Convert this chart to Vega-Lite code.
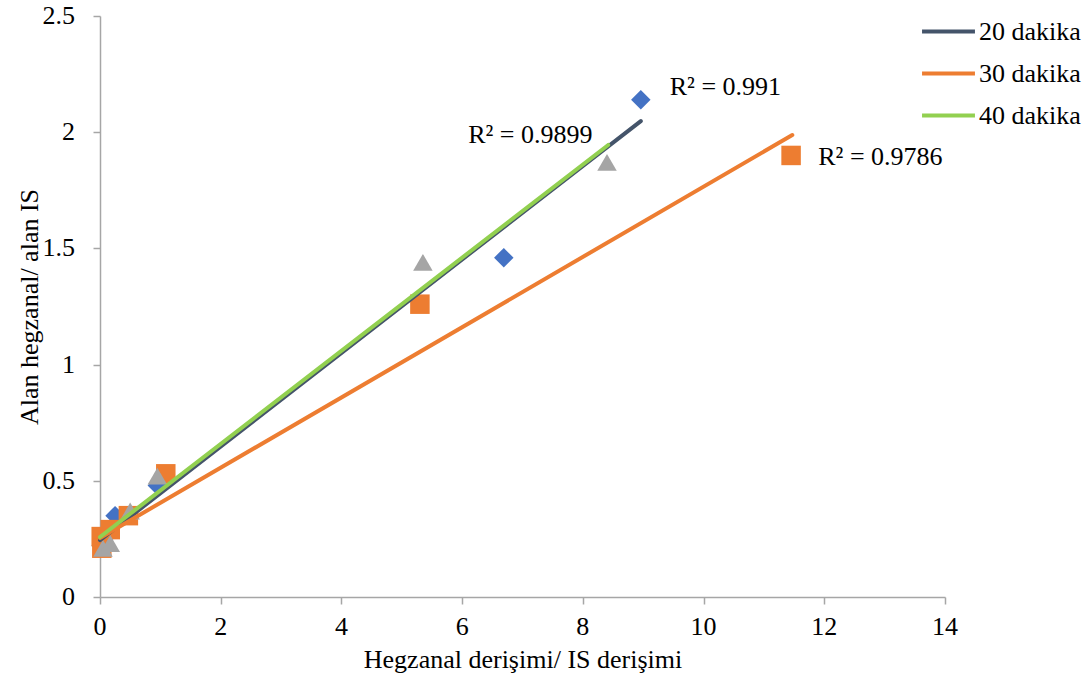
{
  "$schema": "https://vega.github.io/schema/vega-lite/v6.json",
  "width": 845,
  "height": 581,
  "autosize": {"type": "none"},
  "padding": {"left": 100, "top": 16, "right": 143, "bottom": 85},
  "background": "white",
  "config": {
    "view": {"stroke": null},
    "font": "Liberation Serif",
    "axis": {
      "grid": false,
      "labels": false,
      "domainColor": "#A6A6A6",
      "domainWidth": 1.5,
      "tickColor": "#A6A6A6",
      "tickWidth": 1.5,
      "tickSize": 7,
      "titleFont": "Liberation Serif",
      "titleFontSize": 26,
      "titleFontWeight": "normal",
      "titleColor": "#000000"
    },
    "legend": {
      "labelFont": "Times New Roman",
      "labelFontSize": 26,
      "labelColor": "#000000"
    }
  },
  "datasets": {
    "points": [
      {"series": "20 dakika", "x": 0.02, "y": 0.22},
      {"series": "20 dakika", "x": 0.1, "y": 0.26},
      {"series": "20 dakika", "x": 0.25, "y": 0.35},
      {"series": "20 dakika", "x": 0.95, "y": 0.48},
      {"series": "20 dakika", "x": 6.69, "y": 1.46},
      {"series": "20 dakika", "x": 8.96, "y": 2.14},
      {"series": "30 dakika", "x": 0.02, "y": 0.26},
      {"series": "30 dakika", "x": 0.03, "y": 0.21},
      {"series": "30 dakika", "x": 0.17, "y": 0.29},
      {"series": "30 dakika", "x": 0.47, "y": 0.35},
      {"series": "30 dakika", "x": 1.09, "y": 0.53},
      {"series": "30 dakika", "x": 5.3, "y": 1.26},
      {"series": "30 dakika", "x": 11.45, "y": 1.9},
      {"series": "40 dakika", "x": 0.05, "y": 0.21},
      {"series": "40 dakika", "x": 0.17, "y": 0.23},
      {"series": "40 dakika", "x": 0.5, "y": 0.37},
      {"series": "40 dakika", "x": 0.95, "y": 0.52},
      {"series": "40 dakika", "x": 5.35, "y": 1.44},
      {"series": "40 dakika", "x": 8.4, "y": 1.87}
    ],
    "trends": [
      {"series": "20 dakika", "x": 0.0, "y": 0.245},
      {"series": "20 dakika", "x": 8.96, "y": 2.048},
      {"series": "30 dakika", "x": 0.0, "y": 0.254},
      {"series": "30 dakika", "x": 11.47, "y": 1.988},
      {"series": "40 dakika", "x": 0.0, "y": 0.258},
      {"series": "40 dakika", "x": 8.42, "y": 1.945}
    ],
    "fits": [
      {"series": "20 dakika", "x": 9.44, "y": 2.195, "label": "R² = 0.991"},
      {"series": "40 dakika", "x": 6.1, "y": 1.988, "label": "R² = 0.9899"},
      {"series": "30 dakika", "x": 11.9, "y": 1.893, "label": "R² = 0.9786"}
    ],
    "xTicks": [{"v": 0}, {"v": 2}, {"v": 4}, {"v": 6}, {"v": 8}, {"v": 10}, {"v": 12}, {"v": 14}],
    "yTicks": [{"v": 0}, {"v": 0.5}, {"v": 1}, {"v": 1.5}, {"v": 2}, {"v": 2.5}]
  },
  "layer": [
    {
      "data": {"name": "points"},
      "mark": {"type": "point", "filled": true, "opacity": 1, "size": 380},
      "encoding": {
        "x": {
          "field": "x", "type": "quantitative",
          "scale": {"domain": [0, 14], "nice": false, "zero": true},
          "axis": {"values": [0, 2, 4, 6, 8, 10, 12, 14], "title": "Hegzanal derişimi/ IS derişimi", "titlePadding": 42}
        },
        "y": {
          "field": "y", "type": "quantitative",
          "scale": {"domain": [0, 2.5], "nice": false},
          "axis": {"values": [0, 0.5, 1, 1.5, 2, 2.5], "title": "Alan hegzanal/ alan IS", "titlePadding": 50}
        },
        "shape": {
          "field": "series", "type": "nominal",
          "scale": {"domain": ["20 dakika", "30 dakika", "40 dakika"], "range": ["diamond", "square", "triangle-up"]},
          "legend": null
        },
        "color": {
          "field": "series", "type": "nominal",
          "scale": {"domain": ["20 dakika", "30 dakika", "40 dakika"], "range": ["#4472C4", "#ED7D31", "#A5A5A5"]},
          "legend": null
        }
      }
    },
    {
      "data": {"name": "trends"},
      "mark": {"type": "line", "strokeWidth": 4, "strokeCap": "round"},
      "encoding": {
        "x": {"field": "x", "type": "quantitative"},
        "y": {"field": "y", "type": "quantitative"},
        "color": {
          "field": "series", "type": "nominal",
          "scale": {"domain": ["20 dakika", "30 dakika", "40 dakika"], "range": ["#44546A", "#ED7D31", "#92D050"]},
          "legend": {
            "title": null,
            "orient": "none",
            "legendX": 820,
            "legendY": -13,
            "symbolType": "stroke",
            "symbolSize": 2800,
            "symbolStrokeWidth": 4,
            "labelOffset": 2,
            "rowPadding": -3
          }
        }
      }
    },
    {
      "data": {"name": "fits"},
      "mark": {"type": "text", "align": "left", "baseline": "middle", "fontSize": 26, "font": "Liberation Serif", "color": "#000000"},
      "encoding": {
        "x": {"field": "x", "type": "quantitative"},
        "y": {"field": "y", "type": "quantitative"},
        "text": {"field": "label"}
      }
    },
    {
      "data": {"name": "xTicks"},
      "mark": {"type": "text", "align": "center", "baseline": "top", "dy": 17, "fontSize": 26, "font": "Liberation Serif", "color": "#000000"},
      "encoding": {
        "x": {"field": "v", "type": "quantitative"},
        "y": {"datum": 0, "type": "quantitative"},
        "text": {"field": "v", "type": "quantitative", "format": "~g"}
      }
    },
    {
      "data": {"name": "yTicks"},
      "mark": {"type": "text", "align": "right", "baseline": "middle", "dx": -25, "fontSize": 26, "font": "Liberation Serif", "color": "#000000"},
      "encoding": {
        "x": {"datum": 0, "type": "quantitative"},
        "y": {"field": "v", "type": "quantitative"},
        "text": {"field": "v", "type": "quantitative", "format": "~g"}
      }
    }
  ],
  "resolve": {"scale": {"color": "independent"}, "legend": {"color": "independent"}}
}
